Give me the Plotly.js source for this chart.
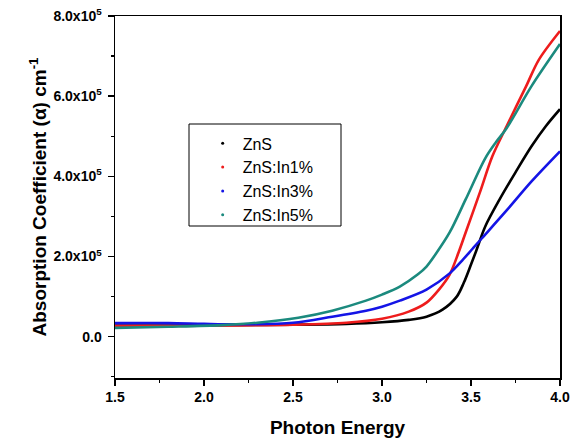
<!DOCTYPE html>
<html>
<head>
<meta charset="utf-8">
<script src="https://cdn.plot.ly/plotly-3.0.1.min.js"></script>
<style>html,body{margin:0;padding:0;background:#fff}#chart{width:579px;height:441px}</style>
</head>
<body>
<div id="chart"></div>
<script>
// Photon energy (eV) and absorption coefficient (cm^-1)
const znsE   = [1.5, 1.8, 2.1, 2.5, 2.8, 3.0, 3.15, 3.25, 3.34, 3.42, 3.46, 3.5, 3.53, 3.58, 3.66, 3.75, 3.84, 3.92, 4.0];
const znsA   = [28000, 28000, 29000, 30000, 32000, 36000, 42000, 50000, 67500, 100000, 135000, 180000, 215000, 275000, 342000, 410000, 475000, 525000, 567500];

const in1E   = [1.5, 1.8, 2.1, 2.5, 2.8, 3.0, 3.15, 3.25, 3.32, 3.38, 3.43, 3.47, 3.55, 3.62, 3.70, 3.81, 3.88, 4.0];
const in1A   = [27000, 27000, 28000, 30000, 35000, 45000, 62500, 85000, 117500, 155000, 210000, 260000, 360000, 450000, 525000, 625000, 690000, 762500];

const in3E   = [1.5, 1.8, 2.0, 2.2, 2.5, 2.72, 2.91, 3.0, 3.1, 3.25, 3.38, 3.45, 3.51, 3.56, 3.70, 3.84, 4.0];
const in3A   = [34000, 34000, 32000, 31000, 35000, 50000, 65000, 75000, 90000, 117500, 158000, 190000, 220000, 245000, 315000, 387500, 462500];

const in5E   = [1.5, 1.8, 2.1, 2.3, 2.53, 2.72, 2.91, 3.0, 3.1, 3.2, 3.25, 3.3, 3.38, 3.47, 3.58, 3.64, 3.70, 3.84, 4.0];
const in5A   = [22000, 25000, 29000, 35000, 47500, 65000, 90000, 105000, 125000, 155000, 175000, 205000, 260000, 342500, 445000, 485000, 520000, 625000, 730000];

const seriesNames  = ["ZnS", "ZnS:In1%", "ZnS:In3%", "ZnS:In5%"];
const seriesColors = ["#000000", "#ee1c1c", "#1414e6", "#1b8a7e"];

const yTickVals = [0, 200000, 400000, 600000, 800000];
const yTickText = ["0.0", "2.0x10<sup>5</sup>", "4.0x10<sup>5</sup>", "6.0x10<sup>5</sup>", "8.0x10<sup>5</sup>"];
const xTickVals = [1.5, 2.0, 2.5, 3.0, 3.5, 4.0];
const xTickText = ["1.5", "2.0", "2.5", "3.0", "3.5", "4.0"];

const xs = [znsE, in1E, in3E, in5E];
const ys = [znsA, in1A, in3A, in5A];

const FONT = "Arial, 'Liberation Sans', sans-serif";
const traces = [];
for (let i = 0; i < 4; i++) {
  traces.push({
    x: xs[i], y: ys[i], type: "scatter", mode: "lines",
    line: {color: seriesColors[i], width: 2.6, shape: "spline", smoothing: 0.9},
    showlegend: false, hoverinfo: "skip"
  });
}
for (let i = 0; i < 4; i++) {
  traces.push({
    x: [null], y: [null], type: "scatter", mode: "markers",
    name: seriesNames[i],
    marker: {color: seriesColors[i], size: 3},
    showlegend: true
  });
}

const axisCommon = {
  showline: true, linecolor: "#000", linewidth: 1.5, mirror: true,
  ticks: "outside", ticklen: 6, tickwidth: 1.5, tickcolor: "#000",
  showgrid: false, zeroline: false,
  tickfont: {family: FONT, size: 14, color: "#000", weight: "bold"}
};

const layout = {
  width: 579, height: 441,
  margin: {l: 115, r: 19, t: 16, b: 63},
  paper_bgcolor: "#ffffff", plot_bgcolor: "#ffffff",
  showlegend: true,
  legend: {
    x: 0.197, y: 0.695, xanchor: "left", yanchor: "top",
    bgcolor: "rgba(0,0,0,0)", borderwidth: 0,
    font: {family: FONT, size: 16, color: "#000"},
    itemwidth: 30
  },
  shapes: [{
    type: "rect", xref: "paper", yref: "paper",
    x0: (189 - 115) / 445, x1: (341 - 115) / 445,
    y0: (378 - 226) / 362, y1: (378 - 124) / 362,
    line: {color: "#000", width: 1}
  }],
  xaxis: Object.assign({}, axisCommon, {
    range: [1.5, 4.0],
    tickmode: "array", tickvals: xTickVals, ticktext: xTickText,
    minor: {tickmode: "linear", tick0: 1.5, dtick: 0.25, ticks: "outside", ticklen: 3, tickwidth: 1.2, tickcolor: "#000"},
    title: {text: "Photon Energy", font: {family: FONT, size: 19, color: "#000", weight: "bold"}, standoff: 16}
  }),
  yaxis: Object.assign({}, axisCommon, {
    range: [-103000, 800000],
    tickmode: "array", tickvals: yTickVals, ticktext: yTickText,
    ticklabelstandoff: 3,
    minor: {tickmode: "linear", tick0: -100000, dtick: 100000, ticks: "outside", ticklen: 3, tickwidth: 1.2, tickcolor: "#000"},
    title: {text: "Absorption Coefficient (α) cm<sup>-1</sup>", font: {family: FONT, size: 19, color: "#000", weight: "bold"}, standoff: 2}
  })
};

Plotly.newPlot("chart", traces, layout, {displayModeBar: false, staticPlot: true});
</script>
</body>
</html>
